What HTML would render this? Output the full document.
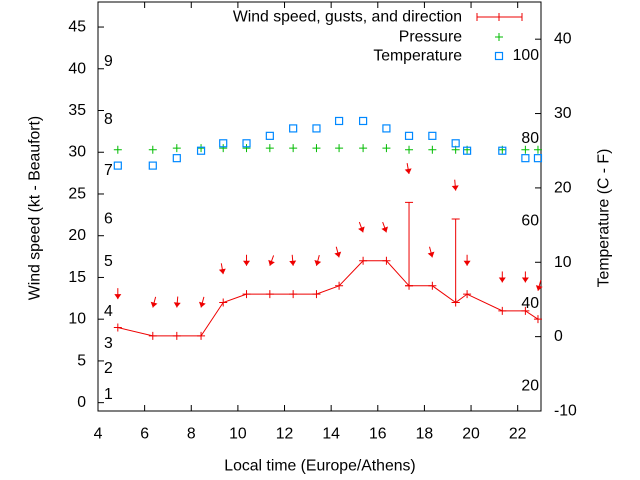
<!DOCTYPE html>
<html><head><meta charset="utf-8"><style>
body{margin:0;background:#fff}
svg{display:block;font-family:"Liberation Sans",sans-serif;font-size:15.8px}
</style></head><body>
<svg id="c" width="640" height="480" viewBox="0 0 640 480"></svg>
<script>
const times=[4.85,6.35,7.38,8.42,9.37,10.37,11.37,12.37,13.37,14.34,15.37,16.37,17.34,18.34,19.34,19.83,21.34,22.33,22.87];
const wind=[9,8,8,8,12,13,13,13,13,14,17,17,14,14,12,13,11,11,10];
const gusts=[null,null,null,null,null,null,null,null,null,null,null,null,24,null,22,null,null,null,null];
const windDir=[0,15,5,15,350,0,20,355,15,345,340,340,350,345,355,0,0,0,15];
const pressure=[30.3,30.3,30.5,30.5,30.5,30.5,30.5,30.5,30.5,30.5,30.5,30.5,30.3,30.3,30.3,30.3,30.3,30.3,30.3];
const temperature=[23,23,24,25,26,26,27,28,28,29,29,28,27,27,26,25,25,24,24];
const xTicks=[4,6,8,10,12,14,16,18,20,22];
const yTicks=[0,5,10,15,20,25,30,35,40,45];
const y2Ticks=[-10,0,10,20,30,40];
const beaufortLabels=["1","2","3","4","5","6","7","8","9"];
const beaufortKt=[1,4.1,7.1,10.9,16.9,22,27.8,33.9,40.9];
const fahrenheit=[20,40,60,80,100];

const L=98,R=541,T=2,B=411;
const X=t=>L+(t-4)/(23-4)*(R-L);
const Y=v=>B-(v+1)/(48+1)*(B-T);
const Y2=c=>B-(c+10)/(45+10)*(B-T);
const svg=document.getElementById('c');
const NS='http://www.w3.org/2000/svg';
function mk(tag,attrs,parent){const e=document.createElementNS(NS,tag);for(const k in attrs)e.setAttribute(k,attrs[k]);(parent||svg).appendChild(e);return e;}
function txt(x,y,s,anchor,name,extra){const e=mk('text',Object.assign({x:x,y:y,'text-anchor':anchor||'middle','dominant-baseline':'central',fill:'#000'},extra||{}));e.textContent=s;


return e;}

const fr=mk('rect',{x:L,y:T,width:R-L,height:B-T,fill:'none',stroke:'#000','stroke-width':1});


xTicks.forEach(t=>{const x=X(t);
 const a=mk('path',{d:`M${x},${B}v-6M${x},${T}v6`,stroke:'#000'});
 
 
 txt(x,434,String(t),'middle','x-tick-label');});
yTicks.forEach(v=>{const y=Y(v);
 const a=mk('path',{d:`M${L},${y}h6`,stroke:'#000'});
 
 
 txt(86,y,String(v),'end','y-tick-label');});
y2Ticks.forEach(v=>{const y=Y2(v);
 const a=mk('path',{d:`M${R},${y}h-6`,stroke:'#000'});
 
 
 txt(554,y,String(v),'start','y2-tick-label');});
beaufortLabels.forEach((s,i)=>txt(104,Y(beaufortKt[i]),s,'start','beaufort-label'));
fahrenheit.forEach(f=>txt(539,Y2((f-32)*5/9),String(f),'end','fahrenheit-label'));

txt(320,466,'Local time (Europe/Athens)','middle','x-axis-title');
txt(35,208,'Wind speed (kt - Beaufort)','middle','y-axis-title',{transform:'rotate(-90 35 208)'});
txt(604,218,'Temperature (C - F)','middle','y2-axis-title',{transform:'rotate(-90 604 218)'});

const wl=mk('polyline',{points:times.map((t,i)=>X(t)+','+Y(wind[i])).join(' '),fill:'none',stroke:'#e00','stroke-width':1});


times.forEach((t,i)=>{const x=X(t),y=Y(wind[i]);
 const p=mk('path',{d:`M${x-4},${y}h8M${x},${y-4}v8`,stroke:'#e00'});
 
 
 if(gusts[i]!=null){const g=Y(gusts[i]);
  const e=mk('path',{d:`M${x},${y}V${g}M${x-4},${g}h8M${x-4},${y}h8`,stroke:'#e00'});
  
  }
 const top=Math.max(wind[i],gusts[i]||0)+3.4;
 const ty=Y(top),len=11,a=windDir[i]*Math.PI/180;
 const sx=x+Math.sin(a)*len, sy=ty-Math.cos(a)*len;
 const g=mk('g',{});
 
 
 mk('line',{x1:sx,y1:sy,x2:x,y2:ty,stroke:'#e00','stroke-width':1},g);
 const ux=(x-sx)/len,uy=(ty-sy)/len,hx=x-ux*5,hy=ty-uy*5;
 mk('polygon',{points:`${x},${ty} ${hx-uy*3.5},${hy+ux*3.5} ${hx+uy*3.5},${hy-ux*3.5}`,fill:'#e00'},g);
});
times.forEach((t,i)=>{const x=X(t),y=Y(pressure[i]);
 const p=mk('path',{d:`M${x-4},${y}h8M${x},${y-4}v8`,stroke:'#0b0'});
 
 });
times.forEach((t,i)=>{const x=X(t),y=Y2(temperature[i]);
 const p=mk('rect',{x:x-3.5,y:y-3.5,width:7,height:7,fill:'none',stroke:'#08f','stroke-width':1.2});
 
 });

txt(462,17,'Wind speed, gusts, and direction','end','legend-wind');
const l1=mk('path',{d:'M477,17h45M477,13v8M522,13v8M499,13v8',stroke:'#e00'});


txt(462,37,'Pressure','end','legend-pressure');
const l2=mk('path',{d:'M495,37h8M499,33v8',stroke:'#0b0'});


txt(462,56,'Temperature','end','legend-temperature');
const l3=mk('rect',{x:495.5,y:52.5,width:7,height:7,fill:'none',stroke:'#08f','stroke-width':1.2});


</script>
</body></html>
